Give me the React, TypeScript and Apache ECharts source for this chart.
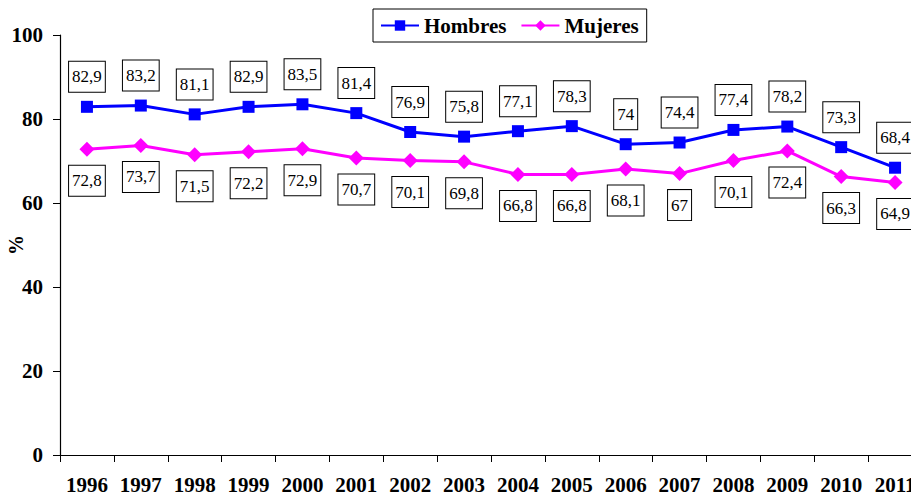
import React, { useEffect, useRef } from "react";
import * as echarts from "echarts";

const years = ["1996","1997","1998","1999","2000","2001","2002","2003","2004","2005","2006","2007","2008","2009","2010","2011"];
const hombres = [82.9, 83.2, 81.1, 82.9, 83.5, 81.4, 76.9, 75.8, 77.1, 78.3, 74, 74.4, 77.4, 78.2, 73.3, 68.4];
const mujeres = [72.8, 73.7, 71.5, 72.2, 72.9, 70.7, 70.1, 69.8, 66.8, 66.8, 68.1, 67, 70.1, 72.4, 66.3, 64.9];
const yTicks = { min: 0, max: 100, interval: 20 };

const FONT = "Times New Roman, Liberation Serif, serif";

const fmt = (v: number) => String(v).replace(".", ",");

export default function App() {
  const ref = useRef<HTMLDivElement>(null);
  useEffect(() => {
    if (!ref.current) return;
    const chart = echarts.init(ref.current, null, { renderer: "svg" });
    const labelBox = {
      show: true,
      fontFamily: FONT,
      fontSize: 17,
      color: "#000",
      backgroundColor: "#fff",
      borderColor: "#000",
      borderWidth: 1,
      lineHeight: 20,
      padding: [5, 3, 5, 3],
      formatter: (p: any) => fmt(p.value),
    };
    chart.setOption({
      animation: false,
      backgroundColor: "#fff",
      textStyle: { fontFamily: FONT },
      legend: {
        show: true,
        left: 373,
        top: 9,
        padding: [6, 8, 6, 7],
        borderColor: "#000",
        borderWidth: 1,
        itemWidth: 38,
        itemHeight: 13,
        itemGap: 14,
        textStyle: { fontFamily: FONT, fontSize: 21, fontWeight: "bold", color: "#000" },
        data: ["Hombres", "Mujeres"],
      },
      grid: {
        left: 60,
        top: 35,
        width: 862,
        height: 420,
        containLabel: false,
        outerBoundsMode: "none",
      },
      xAxis: {
        type: "category",
        data: years,
        boundaryGap: true,
        axisLine: { show: true, lineStyle: { color: "#000", width: 1.2 } },
        axisTick: { show: true, length: 7, alignWithLabel: false, lineStyle: { color: "#000" } },
        axisLabel: {
          interval: 0,
          margin: 19,
          fontFamily: FONT,
          fontSize: 21,
          fontWeight: "bold",
          color: "#000",
        },
      },
      yAxis: {
        type: "value",
        min: yTicks.min,
        max: yTicks.max,
        interval: yTicks.interval,
        name: "%",
        nameLocation: "middle",
        nameGap: 34,
        nameRotate: 90,
        nameMoveOverlap: false,
        nameTextStyle: { fontFamily: FONT, fontSize: 20, fontWeight: "bold", color: "#000" },
        splitLine: { show: false },
        axisLine: { show: true, lineStyle: { color: "#000", width: 1.2 } },
        axisTick: { show: true, length: 7, lineStyle: { color: "#000" } },
        axisLabel: {
          margin: 17,
          fontFamily: FONT,
          fontSize: 21,
          fontWeight: "bold",
          color: "#000",
        },
      },
      series: [
        {
          name: "Hombres",
          type: "line",
          data: hombres,
          symbol: "rect",
          symbolSize: 12,
          lineStyle: { color: "#0000ff", width: 3 },
          itemStyle: { color: "#0000ff" },
          label: { ...labelBox, position: "top", distance: 9 },
        },
        {
          name: "Mujeres",
          type: "line",
          data: mujeres,
          symbol: "diamond",
          symbolSize: 15,
          lineStyle: { color: "#ff00ff", width: 3 },
          itemStyle: { color: "#ff00ff" },
          label: { ...labelBox, position: "bottom", distance: 9 },
        },
      ],
    });
    return () => chart.dispose();
  }, []);
  return (
    <div
      ref={ref}
      style={{ position: "fixed", left: 0, top: 0, width: 911, height: 495 }}
    />
  );
}
